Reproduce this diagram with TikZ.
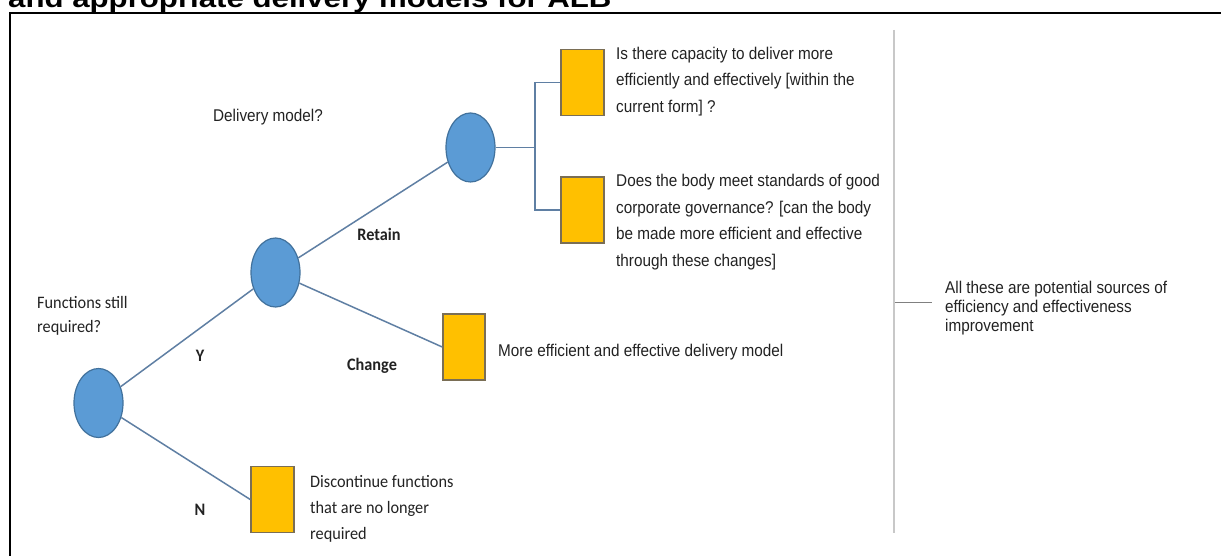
\documentclass[tikz,border=0pt]{standalone}
\usepackage{fontspec}
\setmainfont{Liberation Sans}
\newfontfamily\titlefont[FakeStretch=1.2]{Liberation Sans}
\newfontfamily\bodyfont[FakeStretch=0.9]{Liberation Sans}
\newfontfamily\labfont[FakeStretch=0.93]{Carlito}
\usetikzlibrary{shapes.geometric}
\definecolor{cfill}{HTML}{5B9BD5}
\definecolor{cedge}{HTML}{41719C}
\definecolor{bfill}{HTML}{FFC000}
\definecolor{bedge}{HTML}{7A6E55}
\definecolor{conn}{HTML}{5F7FA3}
\definecolor{textc}{HTML}{222222}
\definecolor{vgray}{HTML}{C8C8C8}
\definecolor{tgray}{HTML}{808080}
\tikzset{
  circ/.style={ellipse, draw=cedge, fill=cfill, line width=1.2pt, minimum width=49, minimum height=69, inner sep=0},
  sqbox/.style={rectangle, draw=bedge, fill=bfill, line width=1.5pt, minimum width=43, minimum height=66, inner sep=0},
  link/.style={draw=conn, line width=1.5pt},
  txt/.style={anchor=west, align=left, inner sep=0, text=textc, font=\bodyfont\fontsize{17}{26.5}\selectfont},
  lab/.style={align=left, inner sep=0, text=textc, font=\labfont\fontsize{17.5}{24}\selectfont},
  blab/.style={inner sep=0, text=textc, font=\labfont\bfseries\fontsize{17.5}{21}\selectfont}
}
\begin{document}
\begin{tikzpicture}[x=1pt,y=-1pt]
\useasboundingbox (0,0) rectangle (1221,556);
\begin{scope}
\clip (0,0) rectangle (1221,556);
\node[anchor=base west, inner sep=0, text=black, font=\titlefont\bfseries\fontsize{26}{30}\selectfont] (title) at (8,8) {and appropriate delivery models for ALB};
\coordinate (fb) at (10,570);
\coordinate (ft) at (10,13);
\coordinate (fr) at (1240,13);
\draw[line width=2pt, black] (fb) -- (ft) -- (fr);
\end{scope}

% decision nodes
\node[circ] (r) at (98.5,403) {};
\node[circ] (c2) at (275.5,272.5) {};
\node[circ] (c3) at (470.5,147.5) {};

% outcome boxes
\node[sqbox] (b1) at (582.5,82.5) {};
\node[sqbox] (b2) at (582.5,210) {};
\node[sqbox, minimum width=42] (bc) at (464,347) {};
\node[sqbox] (bn) at (272.5,499.5) {};

% connectors
\draw[link] (r) -- (c2);
\draw[link] (r) -- (bn.west);
\draw[link] (c2) -- (c3);
\draw[link] (c2) -- (bc.west);
\coordinate (jt) at (535,82.5);
\coordinate (jb) at (535,210);
\draw[link] (c3.east) -- (c3.east -| jt);
\draw[link] (b1.west) -- (jt) -- (jb) -- (b2.west);

% labels
\node[lab, anchor=west] (q1) at (37,315.5) {Functions still\\required?};
\node[txt, anchor=center] (q2) at (268,117) {Delivery model?};
\node[blab] (ly) at (200,356) {Y};
\node[blab] (ln) at (200,510) {N};
\node[blab] (lr) at (379,234) {Retain};
\node[blab] (lc) at (372,366) {Change};

% box texts
\node[txt] (t1) at (616,81.5) {Is there capacity to deliver more\\efficiently and effectively [within the\\current form] ?};
\node[txt] (t2) at (616,222) {Does the body meet standards of good\\corporate governance? [can the body\\be made more efficient and effective\\through these changes]};
\node[txt] (tc) at (498,352) {More efficient and effective delivery model};
\node[lab, anchor=west, font=\labfont\fontsize{17.5}{26}\selectfont] (tn) at (310,509) {Discontinue functions\\that are no longer\\required};

% summary
\coordinate (vt) at (894,30);
\coordinate (vb) at (894,533);
\draw[vgray, line width=2pt] (vt) -- (vb);
\node[txt, font=\bodyfont\fontsize{17}{19}\selectfont] (all) at (945,308) {All these are potential sources of\\efficiency and effectiveness\\improvement};
\coordinate (tk1) at (895,302);
\coordinate (tk2) at (932,302);
\draw[tgray, line width=1pt] (tk1) -- (tk2);
\end{tikzpicture}
\end{document}
